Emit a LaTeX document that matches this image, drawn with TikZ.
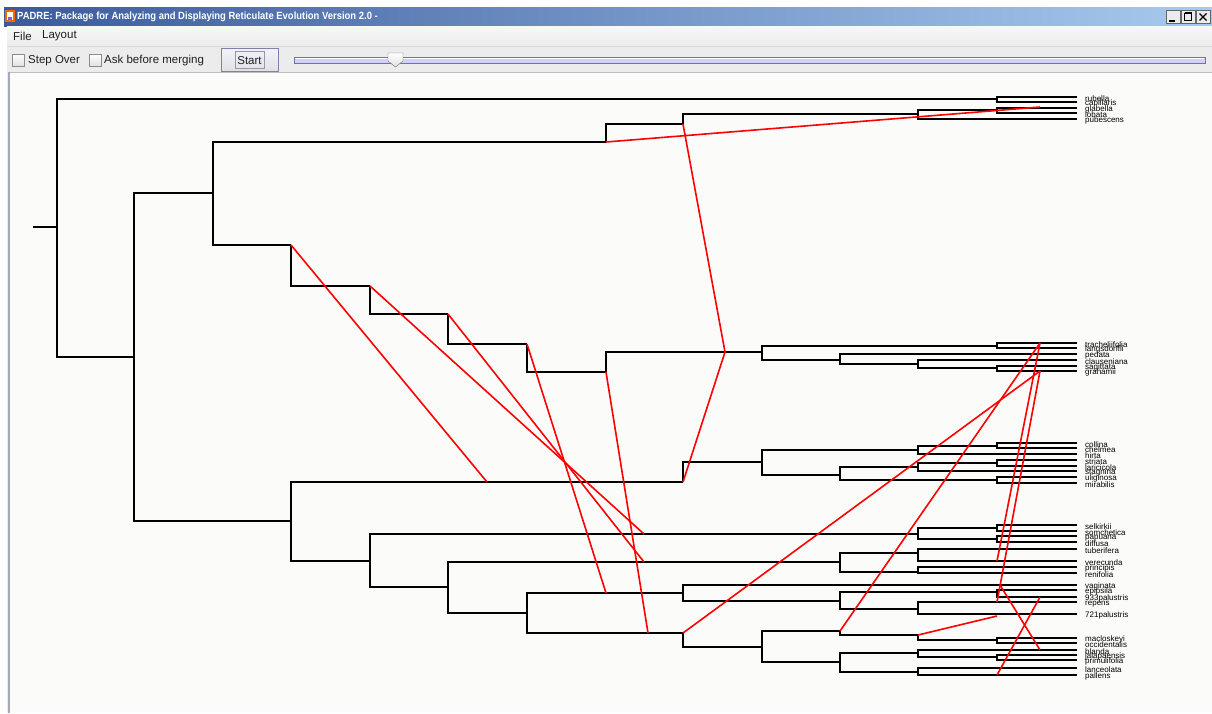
\documentclass[tikz,border=0pt]{standalone}
\usepackage{fontspec}
\setmainfont{Liberation Sans}
\definecolor{tbL}{RGB}{58,90,156}
\definecolor{tbR}{RGB}{168,202,238}
\definecolor{canv}{RGB}{251,252,250}
\definecolor{uigray}{RGB}{236,236,236}
\definecolor{edgegray}{RGB}{160,170,185}
\newcommand\mkleaf[3]{\coordinate (#1) at (1077,#2); \node[lab] (t#1) at (1085,{#2+1.8}) {#3};}
\newcommand\mkbrk[3]{\draw[br] (#2) -- (#1 |- #2) -- (#1 |- #3) -- (#3);}
\newcommand\mkuni[2]{\draw[br] (#1) -- (#1 |- #2) -- (#2);}
\begin{document}
\begin{tikzpicture}[x=1pt,y=-1pt,
  br/.style={line width=2pt, line join=miter, line cap=butt},
  ret/.style={red, line width=1.6pt},
  lab/.style={anchor=west, inner sep=0pt, font=\fontsize{8}{8}\selectfont},
  ui/.style={inner sep=0pt, font=\fontsize{11.5}{12}\selectfont, text=black!88}]
\useasboundingbox (0,0) rectangle (1212,713);
\fill[white] (0,0) rectangle (1212,713);
% window frame
\fill[uigray] (7,7) rectangle (1212,713);
% title bar
\shade[left color=tbL, right color=tbR] (4,7) rectangle (1212,26);
\fill[orange!80!red] (5,10) rectangle (15,22);
\fill[white] (7,12) rectangle (13,20);
\fill[blue!60] (8,17) rectangle (12,20);
\node[anchor=west, inner sep=0pt, text=white, font=\fontsize{10.5}{11}\selectfont\bfseries] (title) at (17,16.5)
  {\scalebox{0.9}[1]{PADRE: Package for Analyzing and Displaying Reticulate Evolution Version 2.0 -}};
% window buttons
\foreach \bx in {1166,1181,1196}{
  \draw[black!60, fill=black!8] (\bx,10.5) rectangle ++(14,13);}
\draw[black, line width=1.6pt] (1169,21) -- (1175,21);
\draw[black, line width=1pt] (1184.5,13.5) rectangle (1191.5,20.5);
\draw[black, line width=1.5pt] (1184.5,12.5) -- (1191.5,12.5);
\draw[black, line width=1.3pt] (1199.5,13.5) -- (1206.5,20.5) (1206.5,13.5) -- (1199.5,20.5);
% menu bar
\shade[top color=white!97!black, bottom color=uigray] (7,26) rectangle (1212,46);
\node[ui, anchor=west] (mfile) at (13,36) {File};
\node[ui, anchor=west] (mlay) at (42,36) {Layout};
% toolbar
\fill[uigray] (7,46) rectangle (1212,72);
\draw[black!15] (7,46.5) -- (1212,46.5);
\shade[top color=white, bottom color=black!12, draw=black!45] (12,54) rectangle (24,66);
\node[ui, anchor=west] (cstep) at (28,60.5) {Step Over};
\shade[top color=white, bottom color=black!12, draw=black!45] (89,54) rectangle (101,66);
\node[ui, anchor=west] (cask) at (104,60.5) {Ask before merging};
\shade[top color=white!95!blue, bottom color=blue!12!black!12, draw=blue!35!black!50] (221,48) rectangle (278,71);
\draw[black!40] (235,51.5) rectangle (264,68);
\node[ui] (bstart) at (249.5,60.5) {Start};
% slider
\fill[blue!18!white] (294,57) rectangle (1205,63);
\draw[blue!30!black!55] (294,57) rectangle (1205,63);
\draw[white] (295,58.5) -- (1204,58.5);
\shade[top color=white, bottom color=black!12, draw=black!55] (388,53) -- (403,53) -- (403,61) -- (395.5,67) -- (388,61) -- cycle;
% canvas
\fill[canv] (10,72) rectangle (1212,713);
\draw[edgegray, line width=2pt] (9,72) -- (9,713);
\draw[black!25] (10,72) -- (1212,72);

% ---------------- leaves ----------------
\mkleaf{Lrub}{97}{rubella}
\mkleaf{Lcap}{102}{capillaris}
\mkleaf{Lgla}{108}{glabella}
\mkleaf{Llob}{113}{lobata}
\mkleaf{Lpub}{119}{pubescens}
\mkleaf{Ltra}{343}{tracheliifolia}
\mkleaf{Llan}{348}{langsdorffii}
\mkleaf{Lped}{354}{pedata}
\mkleaf{Lcla}{360}{clauseniana}
\mkleaf{Lsag}{366}{sagittata}
\mkleaf{Lgra}{371}{grahamii}
\mkleaf{Lcol}{443}{collina}
\mkleaf{Lche}{448}{chelmea}
\mkleaf{Lhir}{454}{hirta}
\mkleaf{Lstr}{460}{striata}
\mkleaf{Llar}{466}{laricicola}
\mkleaf{Lsta}{471}{stagnina}
\mkleaf{Luli}{477}{uliginosa}
\mkleaf{Lmir}{483}{mirabilis}
\mkleaf{Lsel}{525}{selkirkii}
\mkleaf{Lsom}{531}{somchetica}
\mkleaf{Lpap}{536}{papuana}
\mkleaf{Ldif}{542}{diffusa}
\mkleaf{Ltub}{549}{tuberifera}
\mkleaf{Lver}{561}{verecunda}
\mkleaf{Lprc}{567}{principis}
\mkleaf{Lren}{573}{renifolia}
\mkleaf{Lvag}{585}{vaginata}
\mkleaf{Lepi}{590}{epipsila}
\mkleaf{Lnnn}{597}{933palustris}
\mkleaf{Lrep}{602}{repens}
\mkleaf{Lsss}{614}{721palustris}
\mkleaf{Lmac}{638}{macloskeyi}
\mkleaf{Locc}{643}{occidentalis}
\mkleaf{Lbla}{650}{blanda}
\mkleaf{Ljal}{655}{jalapaensis}
\mkleaf{Lprm}{660}{primulifolia}
\mkleaf{Llnc}{668}{lanceolata}
\mkleaf{Lpal}{675}{pallens}

% ---------------- internal nodes ----------------
\coordinate (R0) at (33,227);
\coordinate (R) at (57,227);
\coordinate (a1) at (997,99);
\coordinate (b1) at (134,357);
\coordinate (b2) at (213,193);
\coordinate (c1) at (291,521);
\coordinate (u1) at (606,142);
\coordinate (u2) at (683,124);
\coordinate (a2) at (918,114);
\coordinate (a3) at (997,110);
\coordinate (h1) at (291,245);
\coordinate (h2) at (370,286);
\coordinate (h3) at (448,314);
\coordinate (h4) at (527,344);
\coordinate (h5) at (606,372);
\coordinate (g2) at (762,352);
\coordinate (g3) at (997,346);
\coordinate (g4) at (840,360);
\coordinate (g5) at (918,364);
\coordinate (g6) at (997,368);
\coordinate (c2) at (683,482);
\coordinate (c3) at (762,462);
\coordinate (c4) at (918,450);
\coordinate (c5) at (840,475);
\coordinate (c6) at (997,446);
\coordinate (c7) at (918,467);
\coordinate (c8) at (997,480);
\coordinate (c9) at (997,463);
\coordinate (d1) at (370,561);
\coordinate (d2) at (918,534);
\coordinate (d3) at (448,587);
\coordinate (d4) at (997,528);
\coordinate (d5) at (997,539);
\coordinate (d6) at (840,562);
\coordinate (d7) at (918,553);
\coordinate (d8) at (918,572);
\coordinate (e1) at (527,613);
\coordinate (e2) at (683,593);
\coordinate (e3) at (683,633);
\coordinate (e4) at (840,601);
\coordinate (e5) at (997,592);
\coordinate (e6) at (918,609);
\coordinate (e7) at (762,647);
\coordinate (e8) at (840,631);
\coordinate (e9) at (840,662);
\coordinate (e10) at (918,635);
\coordinate (e11) at (997,640);
\coordinate (e12) at (918,653);
\coordinate (e13) at (918,672);
\coordinate (e14) at (997,657);

% ---------------- tree edges ----------------
\draw[br] (R0) -- (R);
\mkbrk{R}{a1}{b1}
\mkbrk{a1}{Lrub}{Lcap}
\mkbrk{b1}{b2}{c1}
\mkbrk{b2}{u1}{h1}
\mkuni{u1}{u2}
\mkuni{u2}{a2}
\mkbrk{a2}{a3}{Lpub}
\mkbrk{a3}{Lgla}{Llob}
\mkuni{h1}{h2}
\mkuni{h2}{h3}
\mkuni{h3}{h4}
\mkuni{h4}{h5}
\mkuni{h5}{g2}
\mkbrk{g2}{g3}{g4}
\mkbrk{g3}{Ltra}{Llan}
\mkbrk{g4}{Lped}{g5}
\mkbrk{g5}{Lcla}{g6}
\mkbrk{g6}{Lsag}{Lgra}
\mkbrk{c1}{c2}{d1}
\mkuni{c2}{c3}
\mkbrk{c3}{c4}{c5}
\mkbrk{c4}{c6}{Lhir}
\mkbrk{c6}{Lcol}{Lche}
\mkbrk{c5}{c7}{c8}
\mkbrk{c7}{c9}{Lsta}
\mkbrk{c9}{Lstr}{Llar}
\mkbrk{c8}{Luli}{Lmir}
\mkbrk{d1}{d2}{d3}
\mkbrk{d2}{d4}{d5}
\mkbrk{d4}{Lsel}{Lsom}
\mkbrk{d5}{Lpap}{Ldif}
\mkbrk{d3}{d6}{e1}
\mkbrk{d6}{d7}{d8}
\mkbrk{d7}{Ltub}{Lver}
\mkbrk{d8}{Lprc}{Lren}
\mkbrk{e1}{e2}{e3}
\mkbrk{e2}{Lvag}{e4}
\mkbrk{e4}{e5}{e6}
\mkbrk{e5}{Lepi}{Lnnn}
\mkbrk{e6}{Lrep}{Lsss}
\mkuni{e3}{e7}
\mkbrk{e7}{e8}{e9}
\mkuni{e8}{e10}
\mkuni{e10}{e11}
\mkbrk{e11}{Lmac}{Locc}
\mkbrk{e9}{e12}{e13}
\mkbrk{e12}{Lbla}{e14}
\mkbrk{e14}{Ljal}{Lprm}
\mkbrk{e13}{Llnc}{Lpal}

% ---------------- reticulations ----------------
\coordinate (r1) at (1040,107);
\coordinate (m1) at (725,352);
\coordinate (m2) at (487,482);
\coordinate (m3) at (644,534);
\coordinate (m4) at (644,562);
\coordinate (m5) at (606,593);
\coordinate (m6) at (648,633);
\coordinate (m7) at (1040,371);
\coordinate (m8) at (1040,343);
\coordinate (m9) at (997,561);
\coordinate (m10) at (997,602);
\coordinate (m11) at (1000,585);
\coordinate (m12) at (1040,650);
\coordinate (m13) at (1040,597);
\coordinate (m14) at (997,675);
\coordinate (m15) at (997,616);
\draw[ret] (u1) -- (r1);
\draw[ret] (u2) -- (m1) -- (c2);
\draw[ret] (h1) -- (m2);
\draw[ret] (h2) -- (m3);
\draw[ret] (h3) -- (m4);
\draw[ret] (h4) -- (m5);
\draw[ret] (h5) -- (m6);
\draw[ret] (e3) -- (m7);
\draw[ret] (e8) -- (m8);
\draw[ret] (m8) -- (m9);
\draw[ret] (m7) -- (m10);
\draw[ret] (m11) -- (m12);
\draw[ret] (m13) -- (m14);
\draw[ret] (e10) -- (m15);
\end{tikzpicture}
\end{document}
